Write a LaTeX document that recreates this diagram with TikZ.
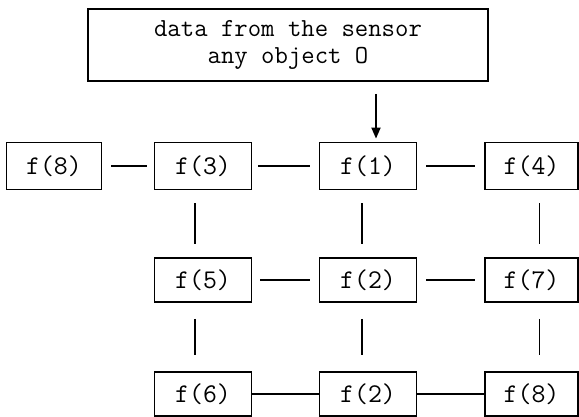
\documentclass[tikz,border=0pt]{standalone}
\usepackage{fontspec}
\usetikzlibrary{arrows.meta,calc}
\begin{document}
\begin{tikzpicture}[x=1pt,y=-1pt,
  fbox/.style={draw,line width=1.8pt,inner sep=0pt,minimum width=97pt,minimum height=47pt,
    font=\ttfamily\fontsize{27}{29}\selectfont},
  conn/.style={line width=1.8pt},
  arr/.style={line width=1.8pt,-{Triangle[length=11pt,width=9pt]}}]
\useasboundingbox (0,0) rectangle (579,417);
\node[fbox,minimum width=400pt,minimum height=72pt,align=center,
  font=\ttfamily\fontsize{26}{27}\selectfont] (top) at (288,45)
  {data from the sensor\\any object O};
% row 1
\node[fbox,minimum width=95pt] (f8) at (54,166) {f(8)};
\node[fbox] (f3) at (203,166) {f(3)};
\node[fbox] (f1) at (368,166) {f(1)};
\node[fbox,minimum width=93pt] (f4) at (531.5,166) {f(4)};
% row 2
\node[fbox,minimum height=44pt] (f5) at (203,280) {f(5)};
\node[fbox,minimum height=44pt] (f2a) at (368,280) {f(2)};
\node[fbox,minimum height=44pt,minimum width=93pt] (f7) at (531.5,280) {f(7)};
% row 3
\node[fbox,minimum height=44pt] (f6) at (203,394) {f(6)};
\node[fbox,minimum height=44pt] (f2b) at (368,394) {f(2)};
\node[fbox,minimum height=44pt,minimum width=93pt] (f8b) at (531.5,394) {f(8)};
% arrow
\draw[arr] ($(f1.north |- top.south)+(8,12)$) -- ($(f1.north)+(8,-3)$);
% horizontal connectors
\draw[conn,shorten <=9pt,shorten >=7pt] (f8) -- (f3);
\draw[conn,shorten <=6pt,shorten >=9pt] (f3) -- (f1);
\draw[conn,shorten <=9pt,shorten >=9pt] (f1) -- (f4);
\draw[conn,shorten <=8pt,shorten >=9pt] (f5) -- (f2a);
\draw[conn,shorten <=9pt,shorten >=9pt] (f2a) -- (f7);
\draw[conn] (f6) -- (f2b);
\draw[conn] (f2b) -- (f8b);
% vertical connectors
\draw[conn,shorten <=13pt,shorten >=13pt] ([xshift=-8pt]f3.south) -- ([xshift=-8pt]f5.north);
\draw[conn,shorten <=13pt,shorten >=13pt] ([xshift=-6pt]f1.south) -- ([xshift=-6pt]f2a.north);
\draw[conn,shorten <=13pt,shorten >=13pt] ([xshift=8pt]f4.south) -- ([xshift=8pt]f7.north);
\draw[conn,shorten <=16pt,shorten >=16pt] ([xshift=-8pt]f5.south) -- ([xshift=-8pt]f6.north);
\draw[conn,shorten <=16pt,shorten >=16pt] ([xshift=-6pt]f2a.south) -- ([xshift=-6pt]f2b.north);
\draw[conn,shorten <=16pt,shorten >=16pt] ([xshift=8pt]f7.south) -- ([xshift=8pt]f8b.north);
\end{tikzpicture}
\end{document}
